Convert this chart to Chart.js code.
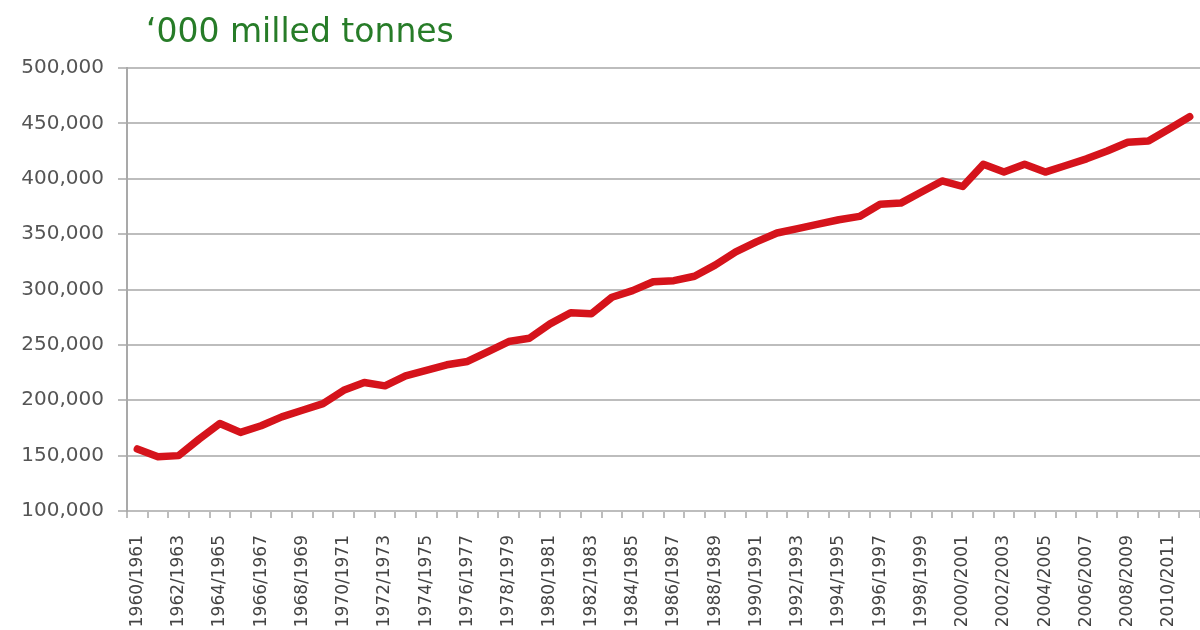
<!DOCTYPE html>
<html>
<head>
<meta charset="utf-8">
<script src="https://cdn.jsdelivr.net/npm/chart.js@4.4.0/dist/chart.umd.min.js"></script>
<style>
  body { margin: 0; background: #fff; }
  #wrap { position: relative; width: 1200px; height: 630px; overflow: hidden; }
  #title { position: absolute; left: 146px; top: 11px; font-family: "DejaVu Sans", sans-serif; font-size: 33px; color: #277c28; }
</style>
</head>
<body>
<div id="wrap">
  <canvas id="c" width="1200" height="630"></canvas>
  <div id="title">&#8216;000 milled tonnes</div>
</div>
<script>
// marketing years 1960/1961 .. 2011/2012
const seasons = [];
for (let y = 1960; y <= 2011; y++) seasons.push(y + '/' + (y + 1));

// world milled rice production, '000 tonnes
const production = [
  156000, 149000, 150000, 165000, 179000, 171000, 177000, 185000, 191000, 197000,
  209000, 216000, 213000, 222000, 227000, 232000, 235000, 244000, 253000, 256000,
  269000, 279000, 278000, 293000, 299000, 307000, 308000, 312000, 322000, 334000,
  343000, 351000, 355000, 359000, 363000, 366000, 377000, 378000, 388000, 398000,
  393000, 413000, 406000, 413000, 406000, 412000, 418000, 425000, 433000, 434000,
  445000, 456000
];

const yTicks = [100000, 150000, 200000, 250000, 300000, 350000, 400000, 450000, 500000];

const gridGrey = '#bdbdbd';

new Chart(document.getElementById('c'), {
  type: 'line',
  data: {
    labels: seasons,
    datasets: [{
      data: production,
      borderColor: '#d5131b',
      borderWidth: 7.5,
      pointRadius: 0,
      tension: 0,
      borderJoinStyle: 'round',
      borderCapStyle: 'round'
    }]
  },
  options: {
    responsive: false,
    animation: false,
    layout: { padding: { top: 68, right: -5, left: 0, bottom: 0 } },
    plugins: { legend: { display: false }, tooltip: { enabled: false } },
    scales: {
      x: {
        offset: true,
        grid: { offset: true, drawOnChartArea: false, drawTicks: true, tickLength: 7, color: gridGrey, lineWidth: 2 },
        border: { display: false },
        ticks: {
          autoSkip: false,
          maxRotation: 90,
          minRotation: 90,
          padding: 17,
          color: '#444',
          font: { family: 'DejaVu Sans', size: 17 },
          callback: function (v, i) { return i % 2 === 0 ? seasons[i] : ''; }
        },
        afterFit: function (s) { s.height = 119; s.paddingLeft = 0; s.paddingRight = 0; }
      },
      y: {
        min: 100000,
        max: 500000,
        afterBuildTicks: function (s) { s.ticks = yTicks.map(v => ({ value: v })); },
        grid: { color: gridGrey, lineWidth: 2, tickLength: 9 },
        border: { display: true, color: '#a9a9a9', width: 2 },
        ticks: {
          padding: 14,
          color: '#555',
          font: { family: 'DejaVu Sans', size: 20 },
          callback: function (v) { return v.toLocaleString('en-US'); }
        },
        afterFit: function (s) { s.width = 127; s.paddingTop = 0; s.paddingBottom = 0; }
      }
    }
  }
});
</script>
</body>
</html>
